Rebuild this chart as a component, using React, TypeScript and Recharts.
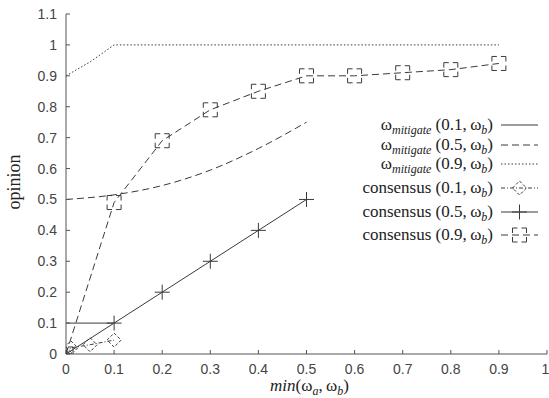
import { LineChart, Line, XAxis, YAxis, Legend, Label } from "recharts";

// axis ticks
const xTicks = [0, 0.1, 0.2, 0.3, 0.4, 0.5, 0.6, 0.7, 0.8, 0.9, 1];
const yTicks = [0, 0.1, 0.2, 0.3, 0.4, 0.5, 0.6, 0.7, 0.8, 0.9, 1, 1.1];

// ω_mitigate curves
const mitigate01X = [0, 0.1];
const mitigate01Y = [0.1, 0.1];
const mitigate05X = [0, 0.1, 0.2, 0.3, 0.4, 0.5];
const mitigate05Y = [0.5, 0.515, 0.545, 0.595, 0.665, 0.75];
const mitigate09X = [0, 0.05, 0.1, 0.2, 0.3, 0.4, 0.5, 0.6, 0.7, 0.8, 0.9];
const mitigate09Y = [0.9, 0.945, 1, 1, 1, 1, 1, 1, 1, 1, 1];

// consensus points
const consensus01X = [0, 0.01, 0.05, 0.1];
const consensus01Y = [0, 0.02, 0.03, 0.045];
const consensus05X = [0, 0.1, 0.2, 0.3, 0.4, 0.5];
const consensus05Y = [0, 0.1, 0.2, 0.3, 0.4, 0.5];
const consensus09X = [0, 0.1, 0.2, 0.3, 0.4, 0.5, 0.6, 0.7, 0.8, 0.9];
const consensus09Y = [0, 0.49, 0.69, 0.79, 0.85, 0.9, 0.9, 0.91, 0.92, 0.94];

const pts = (xs: number[], ys: number[]) => xs.map((x, i) => ({ x, y: ys[i] }));

const INK = "#3a3a3a";
const SERIF = "'Liberation Serif', 'DejaVu Serif', serif";
const SANS = "'Liberation Sans', Arial, sans-serif";

const DASH_MIT05 = "7 4";
const DASH_MIT09 = "1.5 2";
const DASH_CON01 = "4 2 1 2";
const DASH_CON09 = "7 4";

function diamond(cx: number, cy: number, key?: any) {
  const r = 7;
  return (
    <path
      key={key}
      d={`M${cx},${cy - r}L${cx + r},${cy}M${cx + r},${cy}L${cx},${cy + r}M${cx},${cy + r}L${cx - r},${cy}M${cx - r},${cy}L${cx},${cy - r}`}
      stroke={INK}
      strokeDasharray="3 2"
      fill="none"
      strokeWidth={1}
    />
  );
}

function cross(cx: number, cy: number, key?: any) {
  const r = 7.5;
  return (
    <path
      key={key}
      d={`M${cx - r},${cy}H${cx + r}M${cx},${cy - r}V${cy + r}`}
      stroke={INK}
      fill="none"
      strokeWidth={1}
    />
  );
}

function square(cx: number, cy: number, key?: any) {
  const r = 7;
  return (
    <path
      key={key}
      d={`M${cx - r},${cy - r}H${cx + r}M${cx + r},${cy - r}V${cy + r}M${cx + r},${cy + r}H${cx - r}M${cx - r},${cy + r}V${cy - r}`}
      stroke={INK}
      strokeDasharray="5 4"
      fill="none"
      strokeWidth={1}
    />
  );
}

const sub = (t: string) => (
  <tspan fontStyle="italic" fontSize={12} dy={4}>
    {t}
  </tspan>
);

function LegendBox() {
  const tx = 153;
  const x1 = 161;
  const x2 = 198;
  const rows = [
    { y: 13, kind: "mit", a: "0.1", dash: undefined, mark: null as any },
    { y: 33, kind: "mit", a: "0.5", dash: DASH_MIT05, mark: null },
    { y: 52, kind: "mit", a: "0.9", dash: DASH_MIT09, mark: null },
    { y: 76, kind: "con", a: "0.1", dash: DASH_CON01, mark: diamond },
    { y: 100, kind: "con", a: "0.5", dash: undefined, mark: cross },
    { y: 123, kind: "con", a: "0.9", dash: DASH_CON09, mark: square },
  ];
  return (
    <svg width={210} height={140} style={{ display: "block" }}>
      {rows.map((r) => (
        <g key={r.y}>
          <text
            x={tx}
            y={r.y + 5}
            textAnchor="end"
            fontFamily={SERIF}
            fontSize={17}
            fill="#222"
          >
            {r.kind === "mit" ? (
              <>
                <tspan>ω</tspan>
                {sub("mitigate")}
                <tspan dy={-4}>{` (${r.a},\u2009ω`}</tspan>
              </>
            ) : (
              <tspan>{`consensus (${r.a},\u2009ω`}</tspan>
            )}
            {sub("b")}
            <tspan dy={-4}>)</tspan>
          </text>
          <line
            x1={x1}
            x2={x2}
            y1={r.y}
            y2={r.y}
            stroke={INK}
            strokeDasharray={r.dash}
          />
          {r.mark && r.mark((x1 + x2) / 2, r.y)}
        </g>
      ))}
    </svg>
  );
}

const renderYLabel = (props: any) => {
  const vb = props.viewBox || { x: 0, y: 14, width: 66, height: 340 };
  const cx = vb.x + 14;
  const cy = vb.y + vb.height / 2 - 2;
  return (
    <text
      x={cx}
      y={cy}
      transform={`rotate(-90 ${cx} ${cy})`}
      textAnchor="middle"
      dominantBaseline="central"
      fontFamily={SERIF}
      fontSize={18}
      fill="#222"
    >
      opinion
    </text>
  );
};

const renderXLabel = (props: any) => {
  const vb = props.viewBox || { x: 66, y: 354, width: 481, height: 44 };
  const cx = vb.x + vb.width / 2 + 3;
  return (
    <text
      x={cx}
      y={vb.y + 37}
      textAnchor="middle"
      fontFamily={SERIF}
      fontSize={17}
      fill="#222"
    >
      <tspan fontStyle="italic">min</tspan>
      <tspan>(ω</tspan>
      {sub("a")}
      <tspan dy={-4}>,&#8201;ω</tspan>
      {sub("b")}
      <tspan dy={-4}>)</tspan>
    </text>
  );
};

const tickStyle = { fill: "#444", fontSize: 14, fontFamily: SANS };
const axisStroke = { stroke: "#555" };

export default function App() {
  return (
    <div style={{ position: "absolute", left: 0, top: 0, background: "#fff" }}>
      <LineChart width={549} height={398} margin={{ top: 14, right: 2, bottom: 0, left: 0 }}>
        <XAxis
          dataKey="x"
          type="number"
          domain={[0, 1]}
          ticks={xTicks}
          allowDataOverflow
          height={44}
          tickSize={-4}
          tickMargin={14}
          tick={tickStyle}
          axisLine={axisStroke}
          tickLine={axisStroke}
        >
          <Label content={renderXLabel} />
        </XAxis>
        <XAxis
          xAxisId="top"
          orientation="top"
          type="number"
          domain={[0, 1]}
          ticks={xTicks}
          allowDataOverflow
          height={0}
          tickSize={-4}
          tick={false}
          axisLine={axisStroke}
          tickLine={axisStroke}
        />
        <YAxis
          type="number"
          domain={[0, 1.1]}
          ticks={yTicks}
          allowDataOverflow
          width={66}
          tickSize={-4}
          tickMargin={13}
          tick={tickStyle}
          axisLine={axisStroke}
          tickLine={axisStroke}
        >
          <Label content={renderYLabel} />
        </YAxis>
        <YAxis
          yAxisId="right"
          orientation="right"
          type="number"
          domain={[0, 1.1]}
          ticks={yTicks}
          allowDataOverflow
          width={0}
          tickSize={-4}
          tick={false}
          axisLine={axisStroke}
          tickLine={axisStroke}
        />

        <Line
          data={pts(mitigate01X, mitigate01Y)}
          dataKey="y"
          name="mitigate (0.1, ωb)"
          stroke={INK}
          strokeWidth={1}
          dot={false}
          activeDot={false}
          isAnimationActive={false}
        />
        <Line
          data={pts(mitigate05X, mitigate05Y)}
          dataKey="y"
          type="monotone"
          name="mitigate (0.5, ωb)"
          stroke={INK}
          strokeWidth={1}
          strokeDasharray={DASH_MIT05}
          dot={false}
          activeDot={false}
          isAnimationActive={false}
        />
        <Line
          data={pts(mitigate09X, mitigate09Y)}
          dataKey="y"
          name="mitigate (0.9, ωb)"
          stroke={INK}
          strokeWidth={1}
          strokeDasharray={DASH_MIT09}
          dot={false}
          activeDot={false}
          isAnimationActive={false}
        />
        <Line
          data={pts(consensus01X, consensus01Y)}
          dataKey="y"
          name="consensus (0.1, ωb)"
          stroke={INK}
          strokeWidth={1}
          strokeDasharray={DASH_CON01}
          dot={(p: any) => diamond(p.cx, p.cy, `d${p.index}`)}
          activeDot={false}
          isAnimationActive={false}
        />
        <Line
          data={pts(consensus05X, consensus05Y)}
          dataKey="y"
          name="consensus (0.5, ωb)"
          stroke={INK}
          strokeWidth={1}
          dot={(p: any) => cross(p.cx, p.cy, `c${p.index}`)}
          activeDot={false}
          isAnimationActive={false}
        />
        <Line
          data={pts(consensus09X, consensus09Y)}
          dataKey="y"
          name="consensus (0.9, ωb)"
          stroke={INK}
          strokeWidth={1}
          strokeDasharray={DASH_CON09}
          dot={(p: any) => square(p.cx, p.cy, `s${p.index}`)}
          activeDot={false}
          isAnimationActive={false}
        />

        <Legend
          layout="horizontal"
          align="center"
          verticalAlign="middle"
          wrapperStyle={{ left: 340, top: 112, width: 210, height: 140 }}
          content={LegendBox}
        />
      </LineChart>
    </div>
  );
}
